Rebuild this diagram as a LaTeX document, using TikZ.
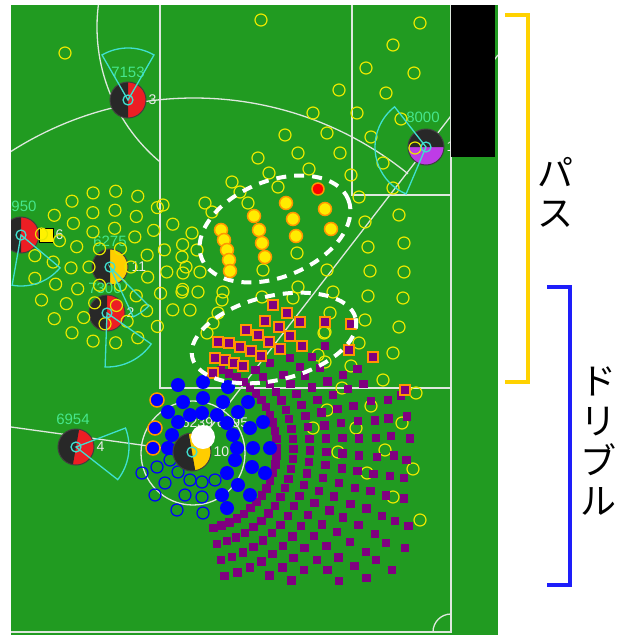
\documentclass[tikz,border=0pt]{standalone}
\usepackage{fontspec}
\newfontfamily\cjk{Noto Sans CJK JP}
\newfontfamily\numfont{Liberation Sans}
\usetikzlibrary{positioning}

\definecolor{pitch}{RGB}{33,155,33}
\definecolor{chalk}{RGB}{222,232,222}
\definecolor{idgreen}{RGB}{70,230,140}
\definecolor{fancyan}{RGB}{64,224,208}
\definecolor{ptyel}{RGB}{232,232,0}
\definecolor{redteam}{RGB}{236,30,36}
\definecolor{yelteam}{RGB}{255,205,0}
\definecolor{dark}{RGB}{40,40,40}
\definecolor{gkpurple}{RGB}{190,60,230}
\definecolor{sqpurple}{RGB}{128,0,128}
\definecolor{edgeorange}{RGB}{255,150,0}
\definecolor{passyel}{RGB}{255,236,0}
\definecolor{brgold}{RGB}{255,210,0}
\definecolor{brblue}{RGB}{30,30,250}
\definecolor{dotblue}{RGB}{0,0,255}
\definecolor{numwhite}{RGB}{235,235,235}

\begin{document}
\begin{tikzpicture}[x=1pt, y=-1pt,
    line/.style={draw=chalk, line width=1.3},
    plyr/.style 2 args={circle, minimum size=36, inner sep=0, fill=#1, draw=black!75, line width=1,
        path picture={\fill[dark] (path picture bounding box.center) -- ++(#2:30)
            arc[start angle=#2, end angle=#2+180, radius=30] -- cycle;}},
    idlbl/.style={font=\numfont\fontsize{15}{16}\selectfont, text=idgreen, inner sep=0},
    numlbl/.style={font=\numfont\fontsize{14}{15}\selectfont, text=numwhite, inner sep=0},
    card/.style={fill=yellow, draw=black, line width=1, minimum size=14, inner sep=0},
    cand/.style={draw=ptyel, line width=1.2},
    fan/.style={draw=fancyan, line width=1.3},
    passball/.style={fill=passyel, draw=edgeorange, line width=1.5},
    sqedge/.style={fill=sqpurple, draw=edgeorange, line width=1.6},
    dashoval/.style={draw=white, line width=4, dash pattern=on 10pt off 8pt},
    passbr/.style={draw=brgold, line width=4},
    dribbr/.style={draw=brblue, line width=4},
    jp/.style={font=\cjk\fontsize{36}{40}\selectfont, align=center, inner sep=0},
]
\useasboundingbox (0,0) rectangle (623,635);
\fill[pitch] (11,5) rectangle (498,635);

\begin{scope}
\clip (11,5) rectangle (498,635);
% pitch markings
\draw[line] (160,5) -- (160,388) -- (451,388);
\draw[line] (352,5) -- (352,195) -- (451,195);
\draw[line] (451,5) -- (451,632) -- (11,632);
\draw[line] (451,614) arc[start angle=270, end angle=180, radius=18];
\draw[line] (194,438) ++(-125:340) arc[start angle=-125, end angle=-51, radius=340];
\draw[line] (273,27) ++(130:176) arc[start angle=130, end angle=190, radius=176];

\coordinate (c10) at (192,452);
\coordinate (ball) at (203,437);
\coordinate (lwing) at (11,427);
\coordinate (ray) at (498,55);
\draw[line] (lwing) -- (c10);
\draw[line] (ball) -- (ray);
\draw[line] (193,453) circle (52);

% players
\node[plyr={redteam}{90}] (p3) at (128,100) {};
\node[plyr={redteam}{90}] (p6) at (21,235) {};
\node[plyr={yelteam}{90}] (p11) at (110,267) {};
\node[plyr={redteam}{90}] (p2) at (107,313) {};
\node[plyr={redteam}{100}] (p4) at (76,447) {};
\node[plyr={gkpurple}{180}] (gk) at (426,147) {};
\node[card, right=-1pt of p6] (card6) {};

\node[idlbl, above=4pt of p3] {7153};
\node[numlbl, right=2pt of p3] {3};
\node[idlbl, above=5pt of p6, xshift=3pt] {950};
\node[numlbl, right=2pt of card6] {6};
\node[idlbl, above=2pt of p11] {6275};
\node[numlbl, right=3pt of p11] {11};
\node[idlbl, above=1pt of p2, xshift=-2pt] {7300};
\node[numlbl, right=1pt of p2] {2};
\node[idlbl, above=4pt of p4, xshift=-3pt] {6954};
\node[numlbl, right=2pt of p4] {4};
\node[idlbl, above=6pt of gk, xshift=-3pt] {8000};
\node[numlbl, right=2pt of gk] {1};

% pass candidates
\foreach \r/\n/\o in {21/6/0, 39/11/15, 57/16/5, 76/21/0}
  \foreach \k in {1,...,\n}
    \draw[cand] (p11.center) ++(\o+360*\k/\n:\r) circle (6);
\foreach \x/\y in {261/20, 65/53, 420/23, 393/45, 366/68, 414/73, 339/90, 386/93,
    313/113, 357/113, 401/119, 285/135, 327/133, 371/137, 298/153, 340/153, 258/158,
    383/163, 269/173, 309/169, 351/175, 232/182, 240/192, 248/203, 205/203, 212/212,
    163/205, 192/233, 393/188, 359/197, 399/215, 365/222, 404/243, 368/247, 404/272,
    370/271, 403/298, 368/296, 399/327, 365/320, 393/353, 359/343, 383/380, 351/366,
    416/393, 342/388, 330/313, 324/333, 318/355, 371/406, 327/410, 402/423, 313/428,
    356/428, 385/450, 338/452, 413/469, 367/473, 393/497, 420/520, 197/250, 182/257,
    200/272, 183/273, 198/292, 182/292, 190/310, 223/292, 222/300, 218/313, 213/323,
    207/333, 278/187, 327/270, 333/292, 297/253, 298/287, 263/270, 262/297, 293/298,
    325/332, 325/362, 415/148}
  \draw[cand] (\x,\y) circle (6);

% view fans
\foreach \p/\a/\b/\r in {p3/-120/-60/52, p6/40/100/51, p11/45/65/55, p2/35/92/54,
    p4/-21/38/53, gk/113/232/51} {
  \draw[fan] (\p.center) -- ++(\a:\r) arc[start angle=\a, end angle=\b, radius=\r] -- cycle;
  \draw[fan] (\p.center) circle (5);
}

% dribble squares
\pgfmathsetseed{11}
\foreach \k in {0,...,9}{
  \pgfmathsetmacro\arcr{82+16.5*\k}
  \pgfmathsetmacro\arcstep{(8.5+1.6*\k)/\arcr*57.2958}
  \pgfmathtruncatemacro\arcn{155/\arcstep}
  \pgfmathsetmacro\arcjit{max(0,0.5*(\k-3))}
  \foreach \j in {0,...,\arcn}{
    \pgfmathsetmacro\arcang{-77+\j*\arcstep}
    \pgfmathsetmacro\qx{195+\arcr*cos(\arcang)+rand*\arcjit}
    \pgfmathsetmacro\qy{448-\arcr*sin(\arcang)+rand*\arcjit}
    \pgfmathtruncatemacro\qok{(\qy>368)&&(\qy<582)&&(\qx<412)&&((\qy>395)||(\qx<380))}
    \ifnum\qok=1
      \fill[sqpurple] (\qx-4.2,\qy-4.2) rectangle ++(8.4,8.4);
    \fi
  }
}
\foreach \x/\y in {325/346, 312/357, 290/358, 270/363, 300/367}
  \fill[sqpurple] (\x-4.2,\y-4.2) rectangle ++(8.4,8.4);
\foreach \x/\y in {273/305, 287/313, 300/322, 325/322, 351/324, 265/321, 279/327,
    290/336, 302/346, 246/330, 258/335, 269/342, 280/349, 349/350, 373/357, 218/342,
    229/343, 240/347, 251/351, 261/356, 215/358, 225/360, 234/363, 243/366, 213/373,
    405/390}
  \filldraw[sqedge] (\x-4.8,\y-4.8) rectangle ++(9.6,9.6);

% ball holder
\node[font=\numfont\fontsize{14}{15}\selectfont, text=numwhite] at (215,423) {6239 6895};
\foreach \x/\y in {178/385, 203/382, 228/387, 183/402, 203/398, 223/402, 248/402,
    168/412, 190/415, 202/413, 217/415, 238/412, 263/422, 178/422, 227/423, 250/428,
    172/435, 233/435, 168/448, 237/448, 253/448, 270/448, 235/460, 252/467, 265/473,
    227/473, 238/485, 250/495, 222/495, 227/508}
  \fill[dotblue] (\x,\y) circle (7);
\foreach \x/\y in {157/400, 155/428, 153/448}
  \filldraw[fill=dotblue, draw=edgeorange, line width=1.5] (\x,\y) circle (7);
\foreach \x/\y in {142/473, 157/467, 170/460, 178/472, 190/480, 202/482, 215/480,
    165/483, 185/495, 155/495, 202/497, 177/510, 203/513}
  \draw[dotblue, line width=1.2] (\x,\y) circle (6);

% pass and dribble areas
\draw[dashoval, rotate around={22:(275,229)}] (275,229) ellipse [x radius=79, y radius=48];
\draw[dashoval, rotate around={13.5:(274,338)}] (274,338) ellipse [x radius=84, y radius=42];

\foreach \x/\y in {221/230, 224/240, 227/250, 229/260, 230/271, 254/216, 259/230,
    262/243, 265/257, 286/203, 293/219, 296/236, 325/209, 331/229}
  \filldraw[passball] (\x,\y) circle (6.5);
\filldraw[passball, fill=red] (318,189) circle (6);

\node[plyr={yelteam}{80}, minimum size=38] (p10) at (c10) {};
\draw[fan] (p10.center) circle (5);
\node[numlbl, right=2pt of p10] {10};
\fill[white] (ball) circle (12);

% goal
\fill[black] (451,5) rectangle (495,157);
\end{scope}

% brackets
\draw[passbr] (505,15) -- (528,15) -- (528,382) -- (505,382);
\draw[dribbr] (547,287) -- (570,287) -- (570,585) -- (547,585);
\node[jp] (pass) at (555,192) {パ\\ス};
\node[jp] (dribble) at (598,441) {ド\\リ\\ブ\\ル};
\end{tikzpicture}
\end{document}
